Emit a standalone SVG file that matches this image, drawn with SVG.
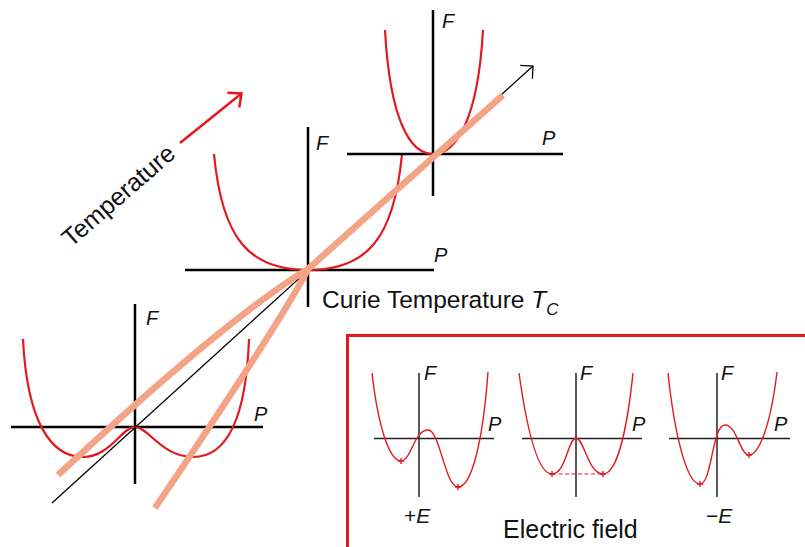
<svg xmlns="http://www.w3.org/2000/svg" width="805" height="547" viewBox="0 0 805 547">
<style>
.ax{stroke:#000;stroke-width:2.5;fill:none}
.axs{stroke:#222;stroke-width:1.5;fill:none}
.cv{stroke:#E3191F;stroke-width:2.2;fill:none}
.cvs{stroke:#E3191F;stroke-width:1.4;fill:none}
.salmon{stroke:#F3A486;stroke-width:6.5;fill:none;stroke-linecap:butt;stroke-linejoin:round}
.lbl{font-family:"Liberation Sans",Arial,sans-serif;font-style:italic;font-size:20px;fill:#111}
.txt{font-family:"Liberation Sans",Arial,sans-serif;font-size:25px;fill:#111}
</style>
<defs>
<marker id="ahBlack" markerUnits="userSpaceOnUse" viewBox="-12 -12 14 24" markerWidth="14" markerHeight="24" refX="0" refY="0" orient="auto" overflow="visible">
<path d="M-9,-9 L0,0 L-9,9" fill="none" stroke="#000" stroke-width="1.3"/>
</marker>
<marker id="ahRed" markerUnits="userSpaceOnUse" viewBox="-12 -12 14 24" markerWidth="14" markerHeight="24" refX="0" refY="0" orient="auto" overflow="visible">
<path d="M-10.5,-9.5 L0,0 L-10.5,9.5" fill="none" stroke="#E3191F" stroke-width="2.5"/>
</marker>
</defs>
<rect width="805" height="547" fill="#fff"/>

<g id="graph-low">
<line class="ax" x1="135" y1="304" x2="135" y2="484"/>
<line class="ax" x1="11" y1="427" x2="263" y2="427"/>
<path class="cv" d="M23,339 C27,420 50,457 83,457 C110,457 122,427 135,427 C148,427 162,457 193,457 C226,457 246,420 249,339"/>
<text class="lbl" x="146" y="325">F</text>
<text class="lbl" x="254" y="421">P</text>
</g>

<g id="graph-curie">
<line class="ax" x1="308" y1="127" x2="308" y2="307"/>
<line class="ax" x1="185" y1="270" x2="434" y2="270"/>
<path class="cv" d="M214,154 C222,240 250,270 308,270 C366,270 394,240 402,154"/>
<text class="lbl" x="316" y="150">F</text>
<text class="lbl" x="434" y="262">P</text>
</g>

<g id="graph-high">
<line class="ax" x1="433" y1="10" x2="433" y2="196"/>
<line class="ax" x1="347" y1="154" x2="563" y2="154"/>
<path class="cv" d="M385,30 C390,120 410,154 433,154 C456,154 478,120 483,30"/>
<text class="lbl" x="442" y="28">F</text>
<text class="lbl" x="542" y="145">P</text>
</g>

<g id="label-temperature">
<text class="txt" transform="translate(71,248) rotate(-41)">Temperature</text>
</g>

<g id="label-curie">
<text class="txt" x="322" y="308" style="font-size:24.5px">Curie Temperature <tspan font-style="italic">T</tspan><tspan font-style="italic" font-size="17" dy="7">C</tspan></text>
</g>

<g id="efield-box">
<rect x="347.5" y="335.5" width="470" height="230" fill="none" stroke="#E3191F" stroke-width="3"/>
<g id="efield-pos">
<line class="axs" x1="419" y1="373" x2="419" y2="497"/>
<line class="axs" x1="374" y1="438.5" x2="494" y2="438.5"/>
<path class="cvs" d="M372,373 C378,425 389,461 401,461 C411,461 414,430 428,430 C440,430 445,487 458,487 C472,487 483,440 488,372"/>
<path class="cvs" d="M398,461 h6 M401,458 v6 M455,487 h6 M458,484 v6"/>
<text class="lbl" x="424" y="380">F</text>
<text class="lbl" x="488" y="431">P</text>
<text class="txt" x="404" y="523" style="font-size:21px">+<tspan font-style="italic">E</tspan></text>
</g>
<g id="efield-zero">
<line class="axs" x1="576" y1="373" x2="576" y2="497"/>
<line class="axs" x1="522" y1="438.5" x2="642" y2="438.5"/>
<path class="cvs" d="M519,373 C527,430 538,474 552,474 C566,474 568,438 576,438 C584,438 588,474 603,474 C617,474 627,430 633,373"/>
<line x1="552" y1="474" x2="603" y2="474" stroke="#E3191F" stroke-width="1.2" stroke-dasharray="4,2.5"/>
<path class="cvs" d="M549,474 h6 M552,471 v6 M600,474 h6 M603,471 v6"/>
<text class="lbl" x="580" y="380">F</text>
<text class="lbl" x="632" y="431">P</text>
</g>
<g id="efield-neg">
<line class="axs" x1="717" y1="373" x2="717" y2="497"/>
<line class="axs" x1="669" y1="438.5" x2="790" y2="438.5"/>
<path class="cvs" d="M668,373 C674,430 686,484 700,484 C712,484 712,425 725,425 C737,425 740,455 749,455 C758,455 770,430 777,372"/>
<path class="cvs" d="M697,484 h6 M700,481 v6 M746,455 h6 M749,452 v6"/>
<text class="lbl" x="721" y="380">F</text>
<text class="lbl" x="774" y="431">P</text>
<text class="txt" x="706" y="523" style="font-size:21px">−<tspan font-style="italic">E</tspan></text>
</g>
<text class="txt" x="503" y="538">Electric field</text>
</g>

<g id="connectors">
<line x1="52" y1="503" x2="533" y2="66" stroke="#000" stroke-width="1.3" marker-end="url(#ahBlack)"/>
<line x1="180" y1="143" x2="241.5" y2="93.5" stroke="#E3191F" stroke-width="2.5" marker-end="url(#ahRed)"/>
<path class="salmon" d="M58,475 Q228,317 308,269 L503,95"/>
<path class="salmon" d="M155,508 Q284,317 308,269"/>
</g>
</svg>
